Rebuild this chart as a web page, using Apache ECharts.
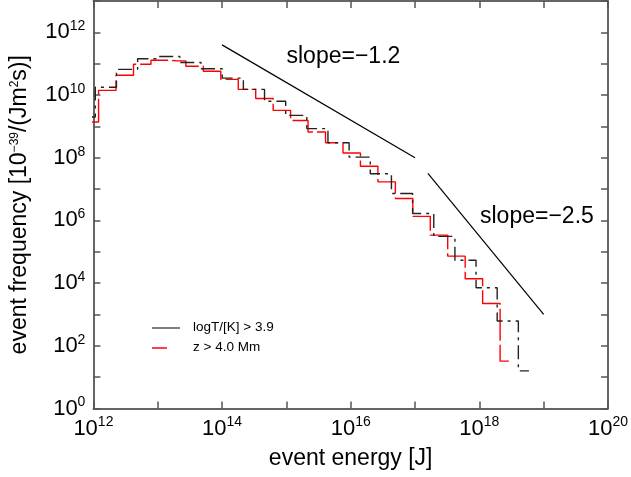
<!DOCTYPE html>
<html><head><meta charset="utf-8">
<script src="https://cdn.jsdelivr.net/npm/echarts@6/dist/echarts.min.js"></script>
<style>html,body{margin:0;padding:0;background:#fff}#c{width:631px;height:477px}</style>
</head><body><div id="c"></div>
<script>
// ---- data (log10 values) ----
const xTickExponents = [12, 14, 16, 18, 20];
const yTickExponents = [0, 2, 4, 6, 8, 10, 12];

// black histogram: logT/[K] > 3.9 (bin centres, log10 E [J]) and log10 frequency
const blackLogE = [11.865, 12.194, 12.523, 12.852, 13.180, 13.509, 13.838, 14.167, 14.496, 14.825, 15.154,
                   15.482, 15.811, 16.140, 16.469, 16.798, 17.127, 17.456, 17.785, 18.113, 18.442, 18.771];
const blackLogF = [9.30, 10.25, 10.82, 11.16, 11.23, 11.04, 10.84, 10.54, 10.18, 9.80, 9.35,
                   8.93, 8.48, 8.02, 7.49, 6.86, 6.22, 5.49, 4.73, 3.85, 2.79, 1.20];

// red histogram: z > 4.0 Mm
const redLogE = [11.945, 12.216, 12.488, 12.759, 13.031, 13.302, 13.573, 13.845, 14.116, 14.388, 14.659, 14.930,
                 15.202, 15.473, 15.745, 16.016, 16.287, 16.559, 16.830, 17.102, 17.373, 17.644, 17.916, 18.187, 18.459];
const redLogF = [9.14, 10.15, 10.63, 10.98, 11.11, 11.09, 10.92, 10.76, 10.50, 10.18, 9.89, 9.51,
                 9.19, 8.82, 8.48, 8.15, 7.73, 7.23, 6.70, 6.13, 5.53, 4.86, 4.14, 3.35, 1.51];

// reference power laws
const slope1LogE = [14.0, 17.0];
const slope1LogF = [11.6, 8.0];
const slope2LogE = [17.2, 19.0];
const slope2LogF = [7.5, 3.0];

const legendNames = ['logT/[K] > 3.9', 'z > 4.0 Mm'];
const slopeLabels = ['slope=\u22121.2', 'slope=\u22122.5'];

// ---- chart ----
const FONT = '"Liberation Sans", Arial, Helvetica, sans-serif';
const toPairs = (le, lf) => le.map((e, i) => [Math.pow(10, e), Math.pow(10, lf[i])]);

const supRich = {
  b: { fontSize: 22, lineHeight: 22, fontFamily: FONT, color: '#000', verticalAlign: 'bottom' },
  s: { fontSize: 14, lineHeight: 14, fontFamily: FONT, color: '#000', verticalAlign: 'bottom', padding: [0, 0, 10, 0] }
};
const fmt = list => v => {
  const e = Math.round(Math.log10(v));
  return list.includes(e) ? '{b|10}{s|' + e + '}' : '';
};

function axis(isX, pos, labels) {
  return {
    type: 'log', logBase: 10,
    min: isX ? 1e12 : 1e0, max: isX ? 1e20 : 1e13, interval: 1,
    position: pos,
    axisLine: { show: true, onZero: false, lineStyle: { color: '#333', width: 1.5 } },
    axisTick: { show: true, inside: true, length: 7, lineStyle: { color: '#555', width: 1.5 } },
    axisLabel: labels ? { show: true, formatter: fmt(isX ? xTickExponents : yTickExponents),
                          margin: isX ? 9 : 8, rich: supRich } : { show: false },
    splitLine: { show: false }
  };
}

const xMain = Object.assign(axis(true, 'bottom', true), {
  name: 'event energy [J]', nameLocation: 'middle', nameGap: 39,
  nameTextStyle: { fontSize: 23, fontFamily: FONT, color: '#000' }
});
const yMain = Object.assign(axis(false, 'left', true), {
  name: '{a|event frequency [10}{s|\u221239}{a|/(Jm}{s|2}{a|s)]}', nameLocation: 'middle', nameGap: 62, nameRotate: 90,
  nameTextStyle: { fontFamily: FONT, color: '#000',
    rich: {
      a: { fontSize: 23, lineHeight: 23, fontFamily: FONT, color: '#000', verticalAlign: 'bottom' },
      s: { fontSize: 12, lineHeight: 12, fontFamily: FONT, color: '#000', verticalAlign: 'bottom', padding: [0, 0, 11, 0] }
    } }
});

const option = {
  animation: false,
  backgroundColor: '#fff',
  grid: { left: 93.4, right: 22, top: 1, bottom: 68.5, containLabel: false },
  xAxis: [xMain, axis(true, 'top', false)],
  yAxis: [yMain, axis(false, 'right', false)],
  series: [
    { name: legendNames[1], type: 'line', step: 'middle', showSymbol: false, z: 2,
      data: toPairs(redLogE, redLogF),
      lineStyle: { color: '#ff0000', width: 1.4, type: [32, 4] } },
    { name: legendNames[0], type: 'line', step: 'middle', showSymbol: false, z: 3,
      data: toPairs(blackLogE, blackLogF),
      lineStyle: { color: '#222', width: 1.4, type: [14, 5, 3, 5] } },
    { type: 'line', showSymbol: false, data: toPairs(slope1LogE, slope1LogF),
      lineStyle: { color: '#000', width: 1.2 } },
    { type: 'line', showSymbol: false, data: toPairs(slope2LogE, slope2LogF),
      lineStyle: { color: '#000', width: 1.2 } }
  ],
  graphic: [
    { type: 'line', shape: { x1: 152, y1: 328, x2: 180, y2: 328 }, style: { stroke: '#555', lineWidth: 1.5 } },
    { type: 'line', shape: { x1: 152, y1: 348, x2: 167, y2: 348 }, style: { stroke: '#ff0000', lineWidth: 1.5 } },
    { type: 'text', x: 193, y: 327.5, style: { text: legendNames[0], font: '13.5px ' + FONT, fill: '#000', verticalAlign: 'middle' } },
    { type: 'text', x: 193, y: 347.5, style: { text: legendNames[1], font: '13.5px ' + FONT, fill: '#000', verticalAlign: 'middle' } },
    { type: 'text', x: 286.5, y: 57, style: { text: slopeLabels[0], font: '23px ' + FONT, fill: '#000', verticalAlign: 'middle' } },
    { type: 'text', x: 480, y: 216.5, style: { text: slopeLabels[1], font: '23px ' + FONT, fill: '#000', verticalAlign: 'middle' } }
  ]
};

const chart = echarts.init(document.getElementById('c'), null, { renderer: 'canvas' });
chart.setOption(option);
</script>
</body></html>
